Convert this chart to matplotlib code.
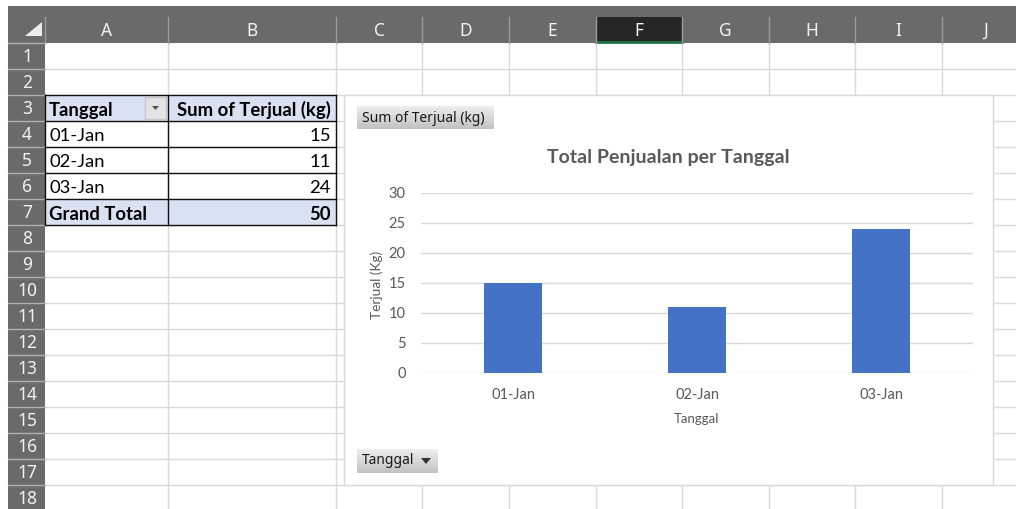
import matplotlib.pyplot as plt
from matplotlib.patches import Rectangle, Polygon
from matplotlib.colors import LinearSegmentedColormap
import numpy as np

# data
tanggal = ["01-Jan", "02-Jan", "03-Jan"]
terjual = [15, 11, 24]
grand_total = sum(terjual)
kolom = ["A", "B", "C", "D", "E", "F", "G", "H", "I", "J"]
baris = list(range(1, 19))
y_ticks = [0, 5, 10, 15, 20, 25, 30]

W, H = 1016, 509
fig = plt.figure(figsize=(W / 100, H / 100), dpi=100)
bg = fig.add_axes([0, 0, 1, 1])
bg.axis('off')

col_x = [45, 168, 336, 422, 509, 596, 682, 769, 855, 942, 1029]
row_y = [43 + 26 * i for i in range(19)]

cell_font = "Lato"
ui_font = "Noto Sans"
hdr_txt = "#f2f2f2"
cell_fs = 13.3

# header band
bg.add_patch(Rectangle((8, 6), W - 8, 37, color="#6a6a6a", lw=0))
bg.add_patch(Rectangle((8, 43), 37, H - 43, color="#6a6a6a", lw=0))
# selected column F
bg.add_patch(Rectangle((col_x[5], 17), col_x[6] - col_x[5], 26, color="#262626", lw=0))
bg.plot([col_x[5], col_x[6]], [42, 42], color="#217346", lw=2)
# corner triangle
bg.add_patch(Polygon([(25, 36), (42, 36), (42, 22)], color="#ececec", lw=0))
bg.plot([45, 45], [17, 43], color="#9c9c9c", lw=1)

for i, c in enumerate(kolom):
    if i > 0:
        bg.plot([col_x[i], col_x[i]], [17, 43], color="#9c9c9c", lw=1)
    bg.text((col_x[i] + col_x[i + 1]) / 2, 31, c, ha="center", va="center",
            fontsize=12.5, color=hdr_txt, family=ui_font)

for i, r in enumerate(baris):
    bg.plot([8, 45], [row_y[i], row_y[i]], color="#b0b0b0", lw=1)
    bg.text(27, (row_y[i] + row_y[i + 1]) / 2 + 1, str(r), ha="center", va="center",
            fontsize=12.5, color=hdr_txt, family=ui_font)

# sheet gridlines
for y in row_y[1:]:
    bg.plot([45, W], [y, y], color="#dadada", lw=1, zorder=1)
for x in col_x[1:-1]:
    bg.plot([x, x], [43, H], color="#dadada", lw=1, zorder=1)

# pivot table
bg.add_patch(Rectangle((45, row_y[2]), col_x[2] - 45, 26, color="#D9E1F2", lw=0, zorder=2))
bg.add_patch(Rectangle((45, row_y[6]), col_x[2] - 45, 26, color="#D9E1F2", lw=0, zorder=2))
for y in row_y[2:8]:
    bg.plot([45, col_x[2]], [y, y], color="#111111", lw=1, zorder=3)
for x in col_x[:3]:
    bg.plot([x, x], [row_y[2], row_y[7]], color="#111111", lw=1, zorder=3)

bg.text(49, 110, "Tanggal", fontsize=cell_fs, fontweight="bold", va="center",
        family=cell_font, color="#000000", zorder=4)
bg.text(331, 110, "Sum of Terjual (kg)", fontsize=cell_fs, fontweight="bold", va="center",
        ha="right", family=cell_font, color="#000000", zorder=4)
# filter dropdown
bg.add_patch(Rectangle((145, 97), 21, 22, facecolor="#e4e4e4", edgecolor="#c8c8c8",
                       lw=1, zorder=4))
bg.add_patch(Polygon([(152, 106), (159, 106), (155.5, 110)], color="#555555", lw=0, zorder=5))

for i, (t, v) in enumerate(zip(tanggal, terjual)):
    yc = (row_y[3 + i] + row_y[4 + i]) / 2 + 2
    bg.text(49, yc, t, fontsize=cell_fs, va="center", family=cell_font, zorder=4)
    bg.text(331, yc, str(v), fontsize=cell_fs, va="center", ha="right", family=cell_font, zorder=4)
yc = (row_y[6] + row_y[7]) / 2 + 2
bg.text(49, yc, "Grand Total", fontsize=cell_fs, fontweight="bold", va="center",
        family=cell_font, zorder=4)
bg.text(331, yc, str(grand_total), fontsize=cell_fs, fontweight="bold", va="center",
        ha="right", family=cell_font, zorder=4)

# chart area
bg.add_patch(Rectangle((344, 95), 649, 390, facecolor="white", edgecolor="#d9d9d9",
                       lw=1, zorder=5))

btn_cmap = LinearSegmentedColormap.from_list("btn", ["#eeeeee", "#c2c2c2"])
grad = np.linspace(0, 1, 32)[:, None]
for (x0, x1, y0, y1) in [(357, 494, 106, 129), (357, 438, 449, 473)]:
    bg.imshow(grad, extent=(x0, x1, y1, y0), cmap=btn_cmap, aspect="auto",
              origin="upper", zorder=6)
bg.text(362, 118, "Sum of Terjual (kg)", fontsize=10, va="center", family=ui_font,
        color="#1a1a1a", zorder=7)
bg.text(362, 461, "Tanggal", fontsize=10, va="center", family=ui_font,
        color="#1a1a1a", zorder=7)
bg.add_patch(Polygon([(421, 458), (431, 458), (426, 464)], color="#333333", lw=0, zorder=7))

bg.text(668, 158, "Total Penjualan per Tanggal", fontsize=14, fontweight="bold",
        ha="center", va="center", family=cell_font, color="#595959", zorder=7)
bg.text(377, 285, "Terjual (Kg)", fontsize=9.8, rotation=90, ha="center", va="center",
        family=cell_font, color="#595959", zorder=7)
bg.text(697, 419, "Tanggal", fontsize=9.5, ha="center", va="center",
        family=cell_font, color="#595959", zorder=7)

bg.set_xlim(0, W)
bg.set_ylim(H, 0)

# bar chart
ax = fig.add_axes([421 / W, (H - 373) / H, 552 / W, 180 / H])
ax.patch.set_alpha(0)
ax.bar(range(len(tanggal)), terjual, width=0.31, color="#4472C4", zorder=3)
ax.set_xlim(-0.5, 2.5)
ax.set_ylim(0, 30)
ax.set_yticks(y_ticks)
ax.set_xticks(range(len(tanggal)), tanggal)
ax.grid(axis="y", color="#d9d9d9", lw=1, zorder=0)
for s in ax.spines.values():
    s.set_visible(False)
ax.tick_params(length=0, colors="#595959", labelsize=10.5)
ax.tick_params(axis="y", pad=11)
ax.tick_params(axis="x", pad=11)
for lbl in ax.get_xticklabels() + ax.get_yticklabels():
    lbl.set_family(cell_font)

fig.savefig("out.png", dpi=100)
